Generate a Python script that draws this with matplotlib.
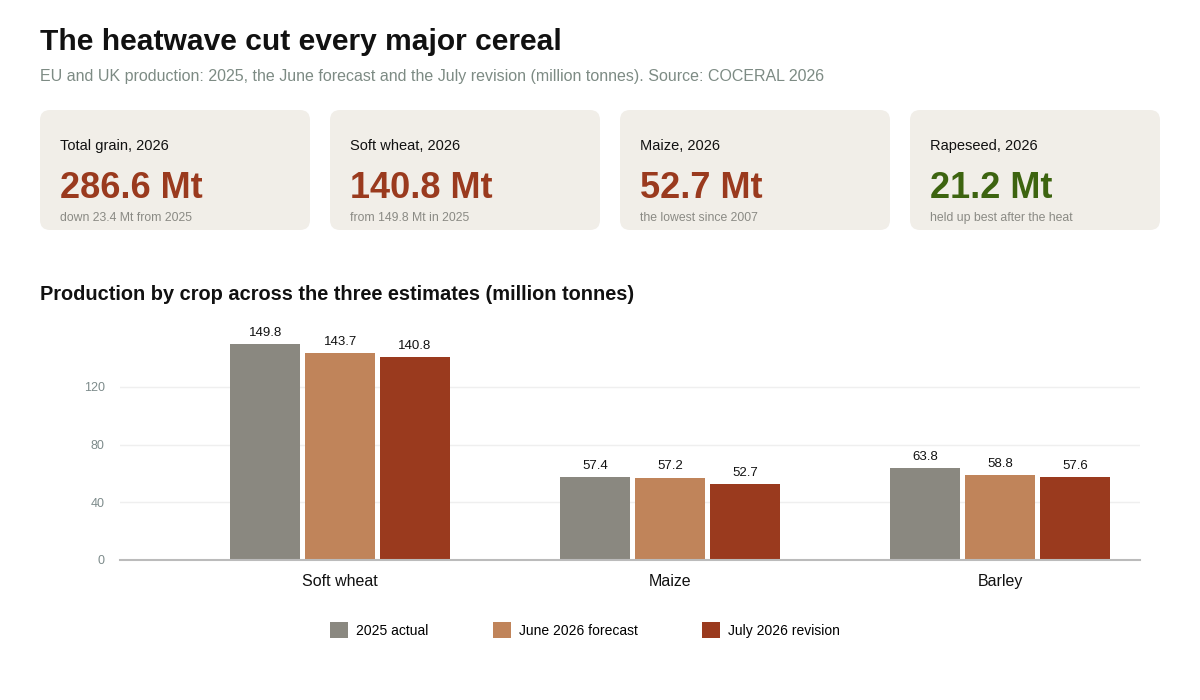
import numpy as np
import matplotlib
matplotlib.use("Agg")
import matplotlib.pyplot as plt
from matplotlib.patches import FancyBboxPatch

plt.rcParams['font.family'] = ['Liberation Sans', 'DejaVu Sans']

# Data
crops = ["Soft wheat", "Maize", "Barley"]
series_names = ["2025 actual", "June 2026 forecast", "July 2026 revision"]
actual_2025 = [149.8, 57.4, 63.8]
june_2026 = [143.7, 57.2, 58.8]
july_2026 = [140.8, 52.7, 57.6]
y_ticks = [0, 40, 80, 120]

card_labels = ["Total grain, 2026", "Soft wheat, 2026", "Maize, 2026", "Rapeseed, 2026"]
card_values = ["286.6 Mt", "140.8 Mt", "52.7 Mt", "21.2 Mt"]
card_notes = ["down 23.4 Mt from 2025", "from 149.8 Mt in 2025",
              "the lowest since 2007", "held up best after the heat"]

# Styles
colors = ["#8a8880", "#c0845a", "#9a3a1e"]
card_value_colors = ["#9a3a1e", "#9a3a1e", "#9a3a1e", "#3d6410"]
card_bg = "#f1eee8"

fig = plt.figure(figsize=(12, 7), dpi=100)

# Overlay in pixel coordinates for header and cards
over = fig.add_axes([0, 0, 1, 1])
over.set_xlim(0, 1200)
over.set_ylim(700, 0)
over.axis("off")

over.text(40, 42, "The heatwave cut every major cereal", fontsize=21.6, fontweight="bold",
          va="center", ha="left", color="#111111")
over.text(40, 76, "EU and UK production: 2025, the June forecast and the July revision "
          "(million tonnes). Source: COCERAL 2026", fontsize=11.5, va="center", ha="left",
          color="#7d8b84")

card_x = [40, 330, 620, 910]
card_w = [270, 270, 270, 250]
for x, w, lab, val, note, vc in zip(card_x, card_w, card_labels, card_values,
                                    card_notes, card_value_colors):
    box = FancyBboxPatch((x, 110), w, 120, boxstyle="round,pad=0,rounding_size=10",
                         facecolor=card_bg, edgecolor="none", mutation_aspect=1)
    over.add_patch(box)
    over.text(x + 20, 146, lab, fontsize=10.5, va="center", ha="left", color="#111111")
    over.text(x + 20, 189, val, fontsize=26, fontweight="bold", va="center", ha="left",
              color=vc)
    over.text(x + 20, 218, note, fontsize=8.8, va="center", ha="left", color="#8a8a84")

over.text(40, 294, "Production by crop across the three estimates (million tonnes)",
          fontsize=14.4, fontweight="bold", va="center", ha="left", color="#111111")

# Bar chart
ax = fig.add_axes([0.1, 0.2, 0.85, 0.3296])
x = np.arange(len(crops))
width = 0.212
offset = 0.227
handles = []
for i, (vals, name) in enumerate(zip([actual_2025, june_2026, july_2026], series_names)):
    bars = ax.bar(x + (i - 1) * offset, vals, width=width, color=colors[i], label=name,
                  zorder=3)
    handles.append(bars)
    for b, v in zip(bars, vals):
        ax.text(b.get_x() + b.get_width() / 2, v + 3.5, f"{v:.1f}", ha="center",
                va="bottom", fontsize=9.5, color="#111111")

ax.set_xlim(-0.667, 2.424)
ax.set_ylim(0, 160)
ax.set_yticks(y_ticks)
ax.set_yticklabels([str(t) for t in y_ticks], fontsize=9, color="#7d8b8b")
ax.set_xticks(x)
ax.set_xticklabels(crops, fontsize=11.5, color="#111111")
ax.tick_params(axis="y", length=0, pad=11)
ax.tick_params(axis="x", length=0, pad=10)
ax.grid(axis="y", color="#efefef", linewidth=1, zorder=0)
for s in ["top", "right", "left"]:
    ax.spines[s].set_visible(False)
ax.spines["bottom"].set_color("#bbbbbb")
ax.spines["bottom"].set_linewidth(1.5)
ax.spines["bottom"].set_zorder(4)

fig.legend(handles=handles, labels=series_names, loc="center",
           bbox_to_anchor=(0.4875, 1 - 630 / 700), ncol=3, frameon=False, fontsize=10,
           handlelength=1.3, handleheight=1.3, handletextpad=0.58, columnspacing=4.6)

fig.savefig("out.png", dpi=100)
